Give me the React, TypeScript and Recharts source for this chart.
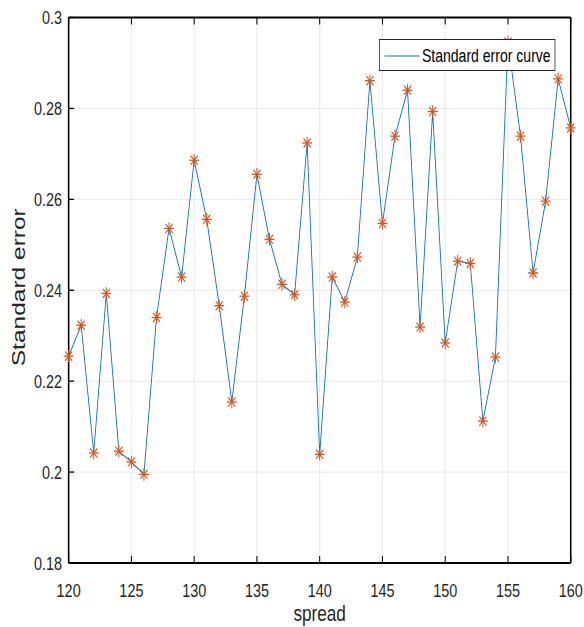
import { LineChart, Line, XAxis, YAxis, CartesianGrid, Legend } from 'recharts';

const spread = [
  120, 121, 122, 123, 124, 125, 126, 127, 128, 129,
  130, 131, 132, 133, 134, 135, 136, 137, 138, 139,
  140, 141, 142, 143, 144, 145, 146, 147, 148, 149,
  150, 151, 152, 153, 154, 155, 156, 157, 158, 159, 160,
];

const stdError = [
  0.2255, 0.2323, 0.2042, 0.2393, 0.2046, 0.2022, 0.1995, 0.2340, 0.2536, 0.2429,
  0.2686, 0.2556, 0.2366, 0.2154, 0.2387, 0.2655, 0.2512, 0.2413, 0.2390, 0.2724,
  0.2039, 0.2429, 0.2374, 0.2473, 0.2861, 0.2547, 0.2739, 0.2840, 0.2319, 0.2793,
  0.2284, 0.2464, 0.2459, 0.2112, 0.2253, 0.2946, 0.2739, 0.2438, 0.2596, 0.2865, 0.2757,
];

const xTicks = [120, 125, 130, 135, 140, 145, 150, 155, 160];
const yTicks = [0.18, 0.2, 0.22, 0.24, 0.26, 0.28, 0.3];

const data = spread.map((s, i) => ({ spread: s, err: stdError[i] }));

// the reference is squished horizontally, so draw wide and scale down
const SQUEEZE = 0.78;
const W = 584 / SQUEEZE;
const H = 627;
const FONT = '"Liberation Sans", Arial, Helvetica, sans-serif';

function Asterisk(props: any) {
  const { cx, cy } = props;
  if (cx == null || cy == null) return <g />;
  const r = 6.3;
  const d = r * 0.72;
  return (
    <g stroke="#D95319" strokeWidth={1.3}>
      <line x1={cx - r} y1={cy} x2={cx + r} y2={cy} />
      <line x1={cx} y1={cy - r} x2={cx} y2={cy + r} />
      <line x1={cx - d} y1={cy - d} x2={cx + d} y2={cy + d} />
      <line x1={cx - d} y1={cy + d} x2={cx + d} y2={cy - d} />
    </g>
  );
}

function LegendBox() {
  return (
    <div
      style={{
        width: 226,
        height: 32,
        boxSizing: 'border-box',
        border: '1px solid #262626',
        background: '#fff',
        display: 'flex',
        alignItems: 'center',
        fontFamily: FONT,
        fontSize: 18,
        color: '#000',
        paddingTop: 2,
      }}
    >
      <svg width={54} height={28} style={{ marginTop: -2 }}>
        <line x1={6} x2={51} y1={15} y2={15} stroke="#0072BD" strokeWidth={1.2} />
      </svg>
      <span>Standard error curve</span>
    </div>
  );
}

const xLabel = (props: any) => {
  const vb = props.viewBox;
  return (
    <text x={vb.x + vb.width / 2} y={vb.y + 58.5} textAnchor="middle" fontSize={22} fontFamily={FONT} fill="#262626">
      spread
    </text>
  );
};

const yLabel = (props: any) => {
  const vb = props.viewBox;
  const x = vb.x + 32;
  const y = vb.y + vb.height / 2 - 3;
  return (
    <text x={x} y={y} transform={`rotate(-90, ${x}, ${y})`} textAnchor="middle" fontSize={24.5} fontFamily={FONT} fill="#262626">
      Standard error
    </text>
  );
};

const blank = () => '';

export default function App() {
  return (
    <div
      style={{
        position: 'absolute',
        left: 0,
        top: 0,
        width: W,
        height: H,
        transform: `scaleX(${SQUEEZE})`,
        transformOrigin: '0 0',
        background: '#fff',
      }}
    >
      <LineChart width={W} height={H} data={data} margin={{ top: 16, right: 16, bottom: 0, left: 0 }}>
        <CartesianGrid stroke="#e6e6e6" />
        <XAxis
          dataKey="spread"
          type="number"
          domain={[120, 160]}
          ticks={xTicks}
          height={64}
          tickSize={-7}
          tickMargin={27.5}
          axisLine={{ stroke: 'black', strokeWidth: 2 }}
          tickLine={{ stroke: 'black', strokeWidth: 1.3 }}
          tick={{ fill: '#262626', fontSize: 18.5, fontFamily: FONT }}
          label={xLabel}
        />
        <XAxis
          xAxisId="top"
          orientation="top"
          dataKey="spread"
          type="number"
          domain={[120, 160]}
          ticks={xTicks}
          height={1.5}
          tickSize={-7}
          axisLine={{ stroke: 'black', strokeWidth: 2 }}
          tickLine={{ stroke: 'black', strokeWidth: 1.3 }}
          tickFormatter={blank}
        />
        <YAxis
          type="number"
          domain={[0.18, 0.3]}
          ticks={yTicks}
          width={88}
          tickSize={-7}
          tickMargin={15.5}
          axisLine={{ stroke: 'black', strokeWidth: 2 }}
          tickLine={{ stroke: 'black', strokeWidth: 1.3 }}
          tick={{ fill: '#262626', fontSize: 18.5, fontFamily: FONT }}
          label={yLabel}
        />
        <YAxis
          yAxisId="right"
          orientation="right"
          type="number"
          domain={[0.18, 0.3]}
          ticks={yTicks}
          width={1}
          tickSize={-7}
          axisLine={{ stroke: 'black', strokeWidth: 2 }}
          tickLine={{ stroke: 'black', strokeWidth: 1.3 }}
          tickFormatter={blank}
        />
        <Legend
          layout="horizontal"
          verticalAlign="middle"
          align="center"
          content={LegendBox}
          wrapperStyle={{ top: 39, left: 485.9, width: 'auto', height: 'auto' }}
        />
        <Line
          type="linear"
          dataKey="err"
          name="Standard error curve"
          stroke="#0072BD"
          strokeWidth={1.1}
          dot={<Asterisk />}
          activeDot={false}
          isAnimationActive={false}
        />
      </LineChart>
    </div>
  );
}
